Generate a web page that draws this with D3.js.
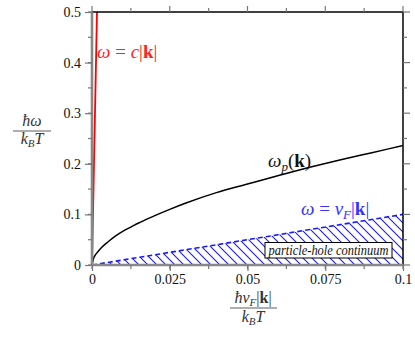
<!DOCTYPE html>
<html>
<head>
<meta charset="utf-8">
<script src="https://cdn.jsdelivr.net/npm/d3@7"></script>
<style>
  body { margin: 0; background: #fff; }
</style>
</head>
<body>
<script>
// data
let xTicks = [0, 0.025, 0.05, 0.075, 0.1];
let xTickLabels = ["0", "0.025", "0.05", "0.075", "0.1"];
let yTicks = [0, 0.1, 0.2, 0.3, 0.4, 0.5];
let yTickLabels = ["0", "0.1", "0.2", "0.3", "0.4", "0.5"];

// photon line  omega = c|k|
let lightX = [0, 0.0016];
let lightY = [0, 0.5];

// plasmon branch omega_p(k)
let plasmaX = [0, 0.0005, 0.001, 0.002, 0.003, 0.005, 0.0075, 0.01, 0.0125, 0.015, 0.02, 0.025, 0.03, 0.04, 0.05, 0.06, 0.07, 0.08, 0.09, 0.1];
let plasmaY = [0, 0.013, 0.019, 0.027, 0.034, 0.045, 0.057, 0.067, 0.075, 0.083, 0.097, 0.110, 0.122, 0.143, 0.160, 0.177, 0.193, 0.208, 0.222, 0.236];

// omega = v_F |k|  (upper edge of continuum)
let fermiX = [0, 0.1];
let fermiY = [0, 0.1];

const SERIF = '"Liberation Serif", "Times New Roman", Times, serif';

function drawChart() {
    var svg = d3.select('body').append('svg')
        .attr('width', 415)
        .attr('height', 339);

    let left = 92, right = 403, top = 12, bottom = 265;
    var xScale = d3.scaleLinear().domain([0, 0.1]).range([left, right]);
    var yScale = d3.scaleLinear().domain([0, 0.5]).range([bottom, top]);

    // hatch pattern
    let defs = svg.append('defs');
    let pat = defs.append('pattern')
        .attr('id', 'hatch')
        .attr('patternUnits', 'userSpaceOnUse')
        .attr('width', 9)
        .attr('height', 9);
    pat.append('path')
        .attr('d', 'M0,0 L9,9 M-2,7 L2,11 M7,-2 L11,2')
        .attr('stroke', '#1a1aff')
        .attr('stroke-width', 1.1);

    // continuum area under omega = v_F|k|
    let area = d3.area()
        .x(d => xScale(d[0]))
        .y0(yScale(0))
        .y1(d => yScale(d[1]));
    svg.append('path')
        .datum(fermiX.map((x, i) => [x, fermiY[i]]))
        .attr('d', area)
        .attr('fill', 'url(#hatch)');

    let line = d3.line()
        .x(d => xScale(d[0]))
        .y(d => yScale(d[1]));

    svg.append('path')
        .datum(fermiX.map((x, i) => [x, fermiY[i]]))
        .attr('d', line)
        .attr('fill', 'none')
        .attr('stroke', '#1a1aff')
        .attr('stroke-width', 1.6)
        .attr('stroke-dasharray', '5,3');

    svg.append('path')
        .datum(plasmaX.map((x, i) => [x, plasmaY[i]]))
        .attr('d', d3.line().x(d => xScale(d[0])).y(d => yScale(d[1])).curve(d3.curveMonotoneX))
        .attr('fill', 'none')
        .attr('stroke', '#000')
        .attr('stroke-width', 1.5);

    svg.append('path')
        .datum(lightX.map((x, i) => [x, lightY[i]]))
        .attr('d', line)
        .attr('fill', 'none')
        .attr('stroke', '#f00')
        .attr('stroke-width', 1.8);

    // frame: top and right black
    svg.append('line')
        .attr('x1', left).attr('x2', right)
        .attr('y1', top).attr('y2', top)
        .attr('stroke', '#000').attr('stroke-width', 1.5);
    svg.append('line')
        .attr('x1', right).attr('x2', right)
        .attr('y1', top).attr('y2', bottom)
        .attr('stroke', '#000').attr('stroke-width', 1.5);

    let minorX = d3.range(0, 9).map(i => i * 0.0125);
    let minorY = d3.range(0, 11).map(i => i * 0.05);
    let tickCol = '#777';

    // axes
    var xAxis = d3.axisBottom(xScale).tickValues(xTicks)
        .tickFormat((d, i) => xTickLabels[i]).tickSize(6).tickPadding(3);
    var yAxis = d3.axisLeft(yScale).tickValues(yTicks)
        .tickFormat((d, i) => yTickLabels[i]).tickSize(7).tickPadding(4);

    let minorTicks = function(g, vals, fn) {
        g.selectAll('line.minor').data(vals).enter().append('line')
            .attr('class', 'minor')
            .each(fn)
            .attr('stroke', tickCol).attr('stroke-width', 1.2);
    };

    let gx = svg.append('g').attr('class', 'x axis')
        .attr('transform', 'translate(0,' + bottom + ')')
        .call(xAxis);
    minorTicks(gx, minorX, function(d) {
        d3.select(this).attr('x1', xScale(d)).attr('x2', xScale(d)).attr('y1', 0).attr('y2', 4);
    });
    let gy = svg.append('g').attr('class', 'y axis')
        .attr('transform', 'translate(' + left + ',0)')
        .call(yAxis);
    minorTicks(gy, minorY, function(d) {
        d3.select(this).attr('x1', 0).attr('x2', -4).attr('y1', yScale(d)).attr('y2', yScale(d));
    });

    // top and right ticks (outward)
    let gt = svg.append('g');
    minorTicks(gt, minorX, function(d, i) {
        let len = i % 2 ? 4 : 6;
        d3.select(this).attr('x1', xScale(d)).attr('x2', xScale(d)).attr('y1', top).attr('y2', top - len);
    });
    let gr = svg.append('g');
    minorTicks(gr, minorY, function(d, i) {
        let len = i % 2 ? 4 : 7;
        d3.select(this).attr('x1', right).attr('x2', right + len).attr('y1', yScale(d)).attr('y2', yScale(d));
    });

    svg.selectAll('.axis path.domain')
        .attr('stroke', '#888').attr('stroke-width', 2.6);
    svg.selectAll('.axis .tick line')
        .attr('stroke', tickCol).attr('stroke-width', 1.2);
    svg.selectAll('.axis text')
        .attr('font-size', 14)
        .attr('fill', '#111');
    // keep the domain ends flush
    gx.select('path.domain').attr('d', 'M' + left + ',0H' + right);
    gy.select('path.domain').attr('d', 'M0,' + bottom + 'V' + top);

    // curve labels
    let red = svg.append('text').attr('x', 97).attr('y', 58)
        .attr('fill', '#f22').attr('font-size', 19);
    red.append('tspan').attr('font-style', 'italic').text('ω');
    red.append('tspan').text(' = ');
    red.append('tspan').attr('font-style', 'italic').text('c');
    red.append('tspan').text('|');
    red.append('tspan').attr('font-weight', 'bold').text('k');
    red.append('tspan').text('|');

    let wp = svg.append('text').attr('x', 268).attr('y', 167)
        .attr('fill', '#111').attr('font-size', 19);
    wp.append('tspan').attr('font-style', 'italic').text('ω');
    wp.append('tspan').attr('font-style', 'italic').attr('font-size', 13).attr('dy', 4).text('p');
    wp.append('tspan').attr('dy', -4).text('(');
    wp.append('tspan').attr('font-weight', 'bold').text('k');
    wp.append('tspan').text(')');

    let bl = svg.append('text').attr('x', 301).attr('y', 215)
        .attr('fill', '#3333ff').attr('font-size', 19);
    bl.append('tspan').attr('font-style', 'italic').text('ω');
    bl.append('tspan').text(' = ');
    bl.append('tspan').attr('font-style', 'italic').text('v');
    bl.append('tspan').attr('font-style', 'italic').attr('font-size', 13).attr('dy', 4).text('F');
    bl.append('tspan').attr('dy', -4).text('|');
    bl.append('tspan').attr('font-weight', 'bold').text('k');
    bl.append('tspan').text('|');

    // continuum box
    svg.append('rect')
        .attr('x', 265).attr('y', 242.5).attr('width', 127).attr('height', 15.5)
        .attr('fill', '#fff').attr('stroke', '#000').attr('stroke-width', 1);
    svg.append('text').attr('x', 328.5).attr('y', 254.5)
        .attr('text-anchor', 'middle').attr('font-style', 'italic').attr('font-size', 14)
        .attr('fill', '#111')
        .attr('textLength', 120).attr('lengthAdjust', 'spacingAndGlyphs')
        .text('particle-hole continuum');

    // axis titles as fractions
    let fracY = svg.append('g');
    let ny = fracY.append('text').attr('x', 32).attr('y', 126).attr('text-anchor', 'middle').attr('font-size', 16).attr('fill', '#333');
    ny.append('tspan').attr('font-style', 'italic').text('ħω');
    fracY.append('line').attr('x1', 13).attr('x2', 51).attr('y1', 131).attr('y2', 131)
        .attr('stroke', '#333').attr('stroke-width', 0.8);
    let dy = fracY.append('text').attr('x', 32).attr('y', 144).attr('text-anchor', 'middle').attr('font-size', 16).attr('fill', '#333');
    dy.append('tspan').attr('font-style', 'italic').text('k');
    dy.append('tspan').attr('font-style', 'italic').attr('font-size', 11).attr('dy', 3).text('B');
    dy.append('tspan').attr('font-style', 'italic').attr('dy', -3).text('T');

    let fracX = svg.append('g');
    let nx = fracX.append('text').attr('x', 253).attr('y', 303).attr('text-anchor', 'middle').attr('font-size', 16).attr('fill', '#333');
    nx.append('tspan').attr('font-style', 'italic').text('ħv');
    nx.append('tspan').attr('font-style', 'italic').attr('font-size', 11).attr('dy', 3).text('F');
    nx.append('tspan').attr('dy', -3).text('|');
    nx.append('tspan').attr('font-weight', 'bold').text('k');
    nx.append('tspan').text('|');
    fracX.append('line').attr('x1', 230).attr('x2', 277).attr('y1', 308).attr('y2', 308)
        .attr('stroke', '#333').attr('stroke-width', 0.8);
    let dx = fracX.append('text').attr('x', 253).attr('y', 322).attr('text-anchor', 'middle').attr('font-size', 16).attr('fill', '#333');
    dx.append('tspan').attr('font-style', 'italic').text('k');
    dx.append('tspan').attr('font-style', 'italic').attr('font-size', 11).attr('dy', 3).text('B');
    dx.append('tspan').attr('font-style', 'italic').attr('dy', -3).text('T');

    // one serif face for every text
    svg.selectAll('g').attr('font-family', null);
    svg.selectAll('text').style('font-family', SERIF);
}

drawChart();
</script>
</body>
</html>
